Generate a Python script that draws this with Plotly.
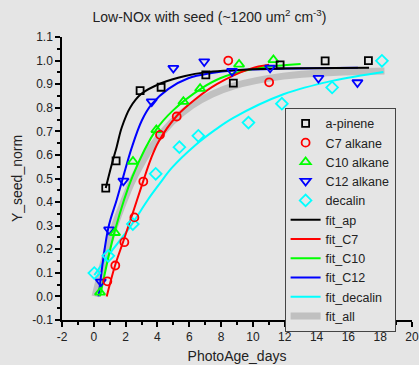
import plotly.graph_objects as go

# ---- data: measured points ----
ap_x = [0.75, 1.40, 2.91, 4.23, 7.04, 8.77, 11.71, 14.54, 17.26]
ap_y = [0.459, 0.575, 0.873, 0.887, 0.939, 0.904, 0.982, 0.999, 1.000]

c7_x = [0.85, 1.35, 1.92, 2.55, 3.11, 4.16, 5.21, 8.45, 11.02]
c7_y = [0.064, 0.131, 0.230, 0.335, 0.487, 0.685, 0.763, 1.000, 0.908]

c10_x = [0.39, 1.33, 2.46, 3.93, 5.63, 6.68, 9.13, 11.29]
c10_y = [0.017, 0.270, 0.572, 0.706, 0.826, 0.881, 0.984, 1.003]

c12_x = [0.44, 0.96, 1.86, 3.64, 5.00, 6.94, 8.69, 11.08, 14.12, 16.57]
c12_y = [0.062, 0.283, 0.490, 0.826, 0.968, 0.996, 0.955, 0.969, 0.926, 0.907]

dec_x = [0.03, 0.91, 2.45, 3.89, 5.38, 6.57, 9.72, 11.82, 14.98, 18.11]
dec_y = [0.099, 0.172, 0.307, 0.520, 0.633, 0.681, 0.737, 0.817, 0.886, 0.999]

# ---- fit curves ----
fit_ap_x = [0.75, 1.13, 1.44, 1.75, 2.28, 3.01, 4.27, 5.74, 7.0, 10.0, 13.0, 17.3]
fit_ap_y = [0.46, 0.56, 0.635, 0.715, 0.80, 0.86, 0.905, 0.935, 0.950, 0.963, 0.968, 0.970]

fit_c7_x = [0.81, 1.33, 1.86, 2.48, 3.11, 3.6, 4.06, 5.21, 6.36, 7.73, 9.82, 11.02]
fit_c7_y = [0.0, 0.13, 0.235, 0.36, 0.49, 0.585, 0.655, 0.765, 0.835, 0.90, 0.965, 0.982]

fit_c10_x = [0.39, 1.33, 2.44, 3.91, 5.0, 6.79, 7.94, 9.82, 11.5, 13.0]
fit_c10_y = [0.0, 0.28, 0.51, 0.706, 0.79, 0.883, 0.925, 0.962, 0.978, 0.986]

fit_c12_x = [0.3, 0.91, 1.44, 1.86, 2.38, 3.01, 3.64, 4.69, 5.94, 7.41, 8.77, 12.0, 16.6]
fit_c12_y = [0.0, 0.29, 0.41, 0.51, 0.63, 0.745, 0.815, 0.88, 0.925, 0.947, 0.958, 0.966, 0.970]

fit_dec_x = [0.03, 0.98, 2.28, 3.4, 4.16, 4.9, 6.36, 7.62, 8.77, 11.92, 15.06, 18.2]
fit_dec_y = [0.09, 0.18, 0.295, 0.41, 0.48, 0.545, 0.64, 0.706, 0.757, 0.857, 0.915, 0.952]

fit_all_x = [0.08, 1.02, 2.17, 2.59, 3.64, 4.9, 6.15, 7.41, 8.77, 11.92, 15.06, 18.27]
fit_all_y = [0.0, 0.24, 0.452, 0.513, 0.636, 0.739, 0.809, 0.857, 0.892, 0.934, 0.950, 0.956]

# ---- tick labels ----
x_ticks = [-2, 0, 2, 4, 6, 8, 10, 12, 14, 16, 18, 20]
x_ticklabels = ["-2", "0", "2", "4", "6", "8", "10", "12", "14", "16", "18", "20"]
y_ticks = [-0.1, 0.0, 0.1, 0.2, 0.3, 0.4, 0.5, 0.6, 0.7, 0.8, 0.9, 1.0, 1.1]
y_ticklabels = ["-0.1", "0.0", "0.1", "0.2", "0.3", "0.4", "0.5", "0.6", "0.7", "0.8", "0.9", "1.0", "1.1"]

BG = "#e5e5e5"
FONT = "Liberation Sans, Arial"
fig = go.Figure()

def pts(x, y, name, sym, color, size):
    fig.add_trace(go.Scatter(x=x, y=y, mode="markers", name=name,
                             marker=dict(symbol=sym, size=size, color=color,
                                         line=dict(color=color, width=1.8))))

def fit(x, y, name, color, width):
    fig.add_trace(go.Scatter(x=x, y=y, mode="lines", name=name,
                             line=dict(color=color, width=width, shape="spline", smoothing=1.0)))

fit(fit_all_x, fit_all_y, "fit_all", "#c0c0c0", 7)
fit(fit_dec_x, fit_dec_y, "fit_decalin", "#00ffff", 2)
fit(fit_c12_x, fit_c12_y, "fit_C12", "#0000ff", 2)
fit(fit_c10_x, fit_c10_y, "fit_C10", "#00ff00", 2)
fit(fit_c7_x, fit_c7_y, "fit_C7", "#ff0000", 2)
fit(fit_ap_x, fit_ap_y, "fit_ap", "#000000", 2)
pts(dec_x, dec_y, "decalin", "diamond-open", "#00ffff", 9)
pts(c12_x, c12_y, "C12 alkane", "triangle-down-open", "#0000ff", 9)
pts(c10_x, c10_y, "C10 alkane", "triangle-up-open", "#00ff00", 9)
pts(c7_x, c7_y, "C7 alkane", "circle-open", "#ff0000", 8)
pts(ap_x, ap_y, "a-pinene", "square-open", "#000000", 7)

ranks = {"a-pinene": 1, "C7 alkane": 2, "C10 alkane": 3, "C12 alkane": 4, "decalin": 5,
         "fit_ap": 6, "fit_C7": 7, "fit_C10": 8, "fit_C12": 9, "fit_decalin": 10, "fit_all": 11}
for tr in fig.data:
    tr.legendrank = ranks[tr.name]

axis_common = dict(showline=True, linecolor="black", linewidth=1.5, ticks="outside",
                   ticklen=5, tickwidth=1.5, tickcolor="black", showgrid=False, zeroline=False,
                   automargin=False,
                   tickfont=dict(family=FONT, size=12, color="#222"),
                   title_font=dict(family=FONT, size=14, color="#222"))

fig.update_xaxes(range=[-2, 20], tickvals=x_ticks, ticktext=x_ticklabels,
                 title_text="PhotoAge_days", title_standoff=8,
                 minor=dict(dtick=1, ticks="outside", ticklen=3, tickcolor="black", tickwidth=1.5),
                 **axis_common)
fig.update_yaxes(range=[-0.1, 1.1], tickvals=y_ticks, ticktext=y_ticklabels,
                 title_text="Y_seed_norm", title_standoff=6,
                 minor=dict(dtick=0.05, ticks="outside", ticklen=3, tickcolor="black", tickwidth=1.5),
                 **axis_common)

fig.update_layout(
    width=419, height=365,
    margin=dict(l=62, r=7, t=37, b=45),
    paper_bgcolor=BG, plot_bgcolor=BG,
    title=dict(text="Low-NOx with seed (~1200 um<sup>2</sup> cm<sup>-3</sup>)",
               x=0.5, xanchor="center", y=1 - 17 / 365, yanchor="middle",
               font=dict(family=FONT, size=14, color="#222")),
    legend=dict(x=0.636, y=0.75, xanchor="left", yanchor="top",
                bgcolor=BG, bordercolor="#444", borderwidth=1,
                font=dict(family=FONT, size=12.5, color="#222"),
                tracegroupgap=0),
    showlegend=True,
)

fig.write_html("out.html")
